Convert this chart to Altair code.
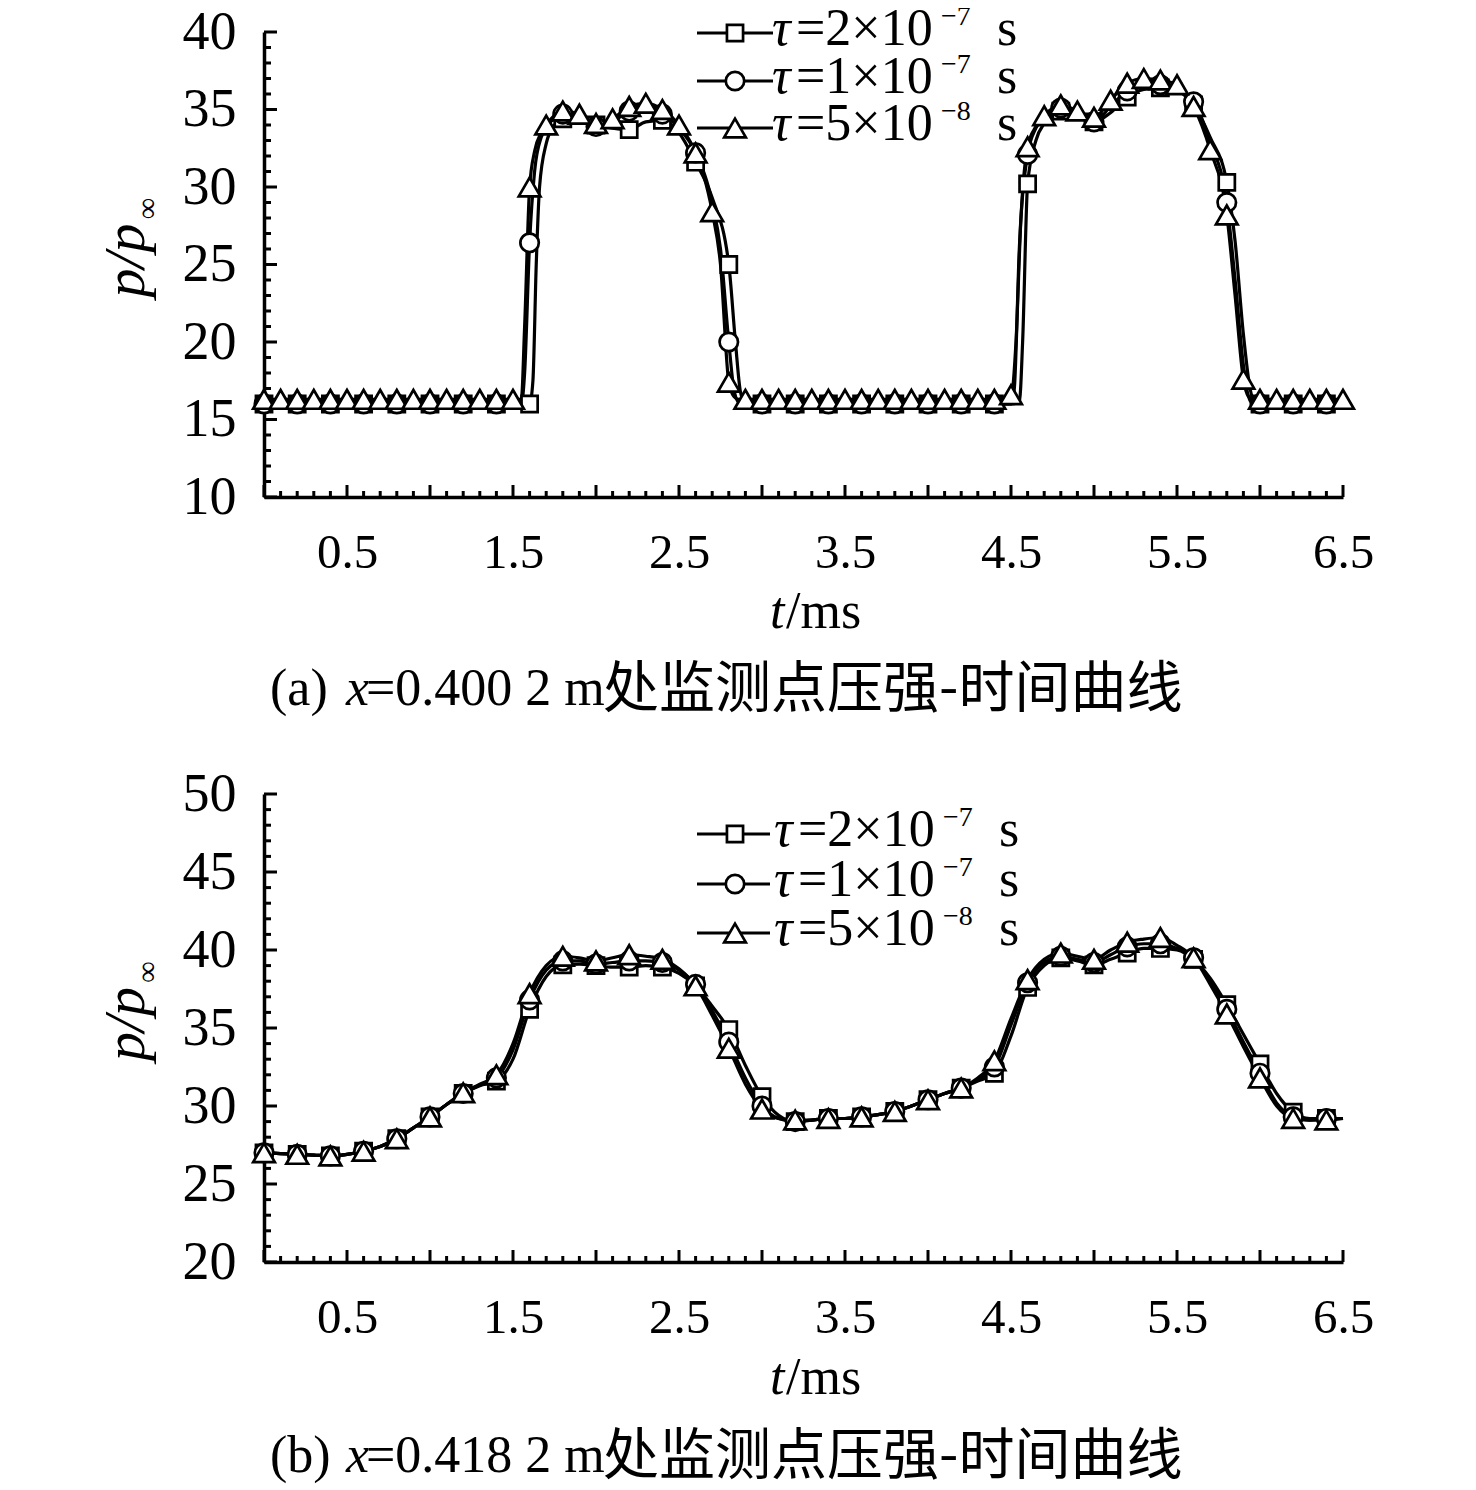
import altair as alt
import pandas as pd

SERIF = "Liberation Serif"
CJK = "Noto Sans CJK SC"

# ---------------- data ----------------
MANTISSA = ["2", "1", "5"]
EXPONENT = ["\u22127", "\u22127", "\u22128"]
SHAPES = ["square", "circle", "triangle-up"]
SIZES = [260, 340, 470]

X_LABELS = [0.5, 1.5, 2.5, 3.5, 4.5, 5.5, 6.5]
X_MAJOR = [0.0, 0.5, 1.0, 1.5, 2.0, 2.5, 3.0, 3.5, 4.0, 4.5, 5.0, 5.5, 6.0, 6.5]
X_MINOR = [0.1, 0.2, 0.3, 0.4, 0.6, 0.7, 0.8, 0.9, 1.1, 1.2, 1.3, 1.4, 1.6, 1.7,
           1.8, 1.9, 2.1, 2.2, 2.3, 2.4, 2.6, 2.7, 2.8, 2.9, 3.1, 3.2, 3.3, 3.4,
           3.6, 3.7, 3.8, 3.9, 4.1, 4.2, 4.3, 4.4, 4.6, 4.7, 4.8, 4.9, 5.1, 5.2,
           5.3, 5.4, 5.6, 5.7, 5.8, 5.9, 6.1, 6.2, 6.3, 6.4]

Y_TOP_MAJOR = [10, 15, 20, 25, 30, 35, 40]
Y_TOP_MINOR = [11, 12, 13, 14, 16, 17, 18, 19, 21, 22, 23, 24, 26, 27, 28, 29,
               31, 32, 33, 34, 36, 37, 38, 39]
Y_BOT_MAJOR = [20, 25, 30, 35, 40, 45, 50]
Y_BOT_MINOR = [21, 22, 23, 24, 26, 27, 28, 29, 31, 32, 33, 34, 36, 37, 38, 39,
               41, 42, 43, 44, 46, 47, 48, 49]

# (a) x = 0.4002 m
TOP_A_T = [0.0, 0.1, 0.2, 0.3, 0.4, 0.5, 0.6, 0.7, 0.8, 0.9, 1.0, 1.1, 1.2, 1.3, 1.4, 1.5, 1.6,
           1.62, 1.64, 1.66, 1.7, 1.75, 1.8, 1.9, 2.0, 2.1, 2.2, 2.3, 2.4, 2.5, 2.6, 2.7, 2.8,
           2.84, 2.87, 2.9, 3.0, 3.1, 3.2, 3.3, 3.4, 3.5, 3.6, 3.7, 3.8, 3.9, 4.0, 4.1, 4.2,
           4.3, 4.4, 4.5, 4.55, 4.57, 4.6, 4.65, 4.7, 4.8, 4.9, 5.0, 5.1, 5.2, 5.3, 5.4, 5.5,
           5.6, 5.7, 5.8, 5.85, 5.9, 5.94, 5.97, 6.0, 6.1, 6.2, 6.3, 6.4, 6.5]
TOP_A_P = [16.0, 16.0, 16.0, 16.0, 16.0, 16.0, 16.0, 16.0, 16.0, 16.0, 16.0, 16.0, 16.0, 16.0, 16.0, 16.0, 16.0,
           17.5, 25.0, 30.0, 32.8, 34.0, 34.4, 34.4, 34.0, 33.8, 33.7, 34.2, 34.3, 33.5, 31.6, 29.3, 25.0,
           20.0, 16.8, 16.0, 16.0, 16.0, 16.0, 16.0, 16.0, 16.0, 16.0, 16.0, 16.0, 16.0, 16.0, 16.0, 16.0,
           16.0, 16.0, 16.0, 16.1, 20.0, 30.2, 33.0, 34.1, 34.9, 34.6, 34.2, 34.8, 35.8, 36.3, 36.4, 36.2,
           35.3, 33.2, 30.3, 26.5, 20.5, 17.0, 16.1, 16.0, 16.0, 16.0, 16.0, 16.0, 16.0]

TOP_B_T = [0.0, 0.1, 0.2, 0.3, 0.4, 0.5, 0.6, 0.7, 0.8, 0.9, 1.0, 1.1, 1.2, 1.3, 1.4, 1.5,
           1.55, 1.57, 1.6, 1.63, 1.67, 1.7, 1.8, 1.9, 2.0, 2.1, 2.2, 2.3, 2.4, 2.5, 2.6, 2.7,
           2.75, 2.8, 2.83, 2.86, 2.9, 3.0, 3.1, 3.2, 3.3, 3.4, 3.5, 3.6, 3.7, 3.8, 3.9, 4.0,
           4.1, 4.2, 4.3, 4.4, 4.5, 4.52, 4.55, 4.6, 4.65, 4.7, 4.8, 4.9, 5.0, 5.1, 5.2, 5.3,
           5.4, 5.5, 5.6, 5.7, 5.8, 5.85, 5.9, 5.93, 5.96, 6.0, 6.1, 6.2, 6.3, 6.4, 6.5]
TOP_B_P = [16.0, 16.0, 16.0, 16.0, 16.0, 16.0, 16.0, 16.0, 16.0, 16.0, 16.0, 16.0, 16.0, 16.0, 16.0, 16.0,
           16.0, 18.0, 26.4, 31.0, 33.2, 33.8, 34.7, 34.5, 33.9, 34.2, 34.9, 35.1, 34.7, 33.8, 32.2, 29.0,
           26.0, 20.0, 17.0, 16.1, 16.0, 16.0, 16.0, 16.0, 16.0, 16.0, 16.0, 16.0, 16.0, 16.0, 16.0, 16.0,
           16.0, 16.0, 16.0, 16.0, 16.0, 17.0, 26.0, 32.1, 33.8, 34.5, 35.1, 34.8, 34.2, 35.2, 36.2, 36.6,
           36.6, 36.3, 35.5, 32.9, 29.0, 24.0, 18.5, 16.5, 16.0, 16.0, 16.0, 16.0, 16.0, 16.0, 16.0]

TOP_C_T = [0.0, 0.1, 0.2, 0.3, 0.4, 0.5, 0.6, 0.7, 0.8, 0.9, 1.0, 1.1, 1.2, 1.3, 1.4, 1.5,
           1.55, 1.57, 1.6, 1.63, 1.67, 1.7, 1.8, 1.9, 2.0, 2.1, 2.2, 2.3, 2.4, 2.5, 2.6, 2.7,
           2.75, 2.8, 2.83, 2.86, 2.9, 3.0, 3.1, 3.2, 3.3, 3.4, 3.5, 3.6, 3.7, 3.8, 3.9, 4.0,
           4.1, 4.2, 4.3, 4.4, 4.5, 4.53, 4.56, 4.6, 4.65, 4.7, 4.8, 4.9, 5.0, 5.1, 5.2, 5.3,
           5.4, 5.5, 5.6, 5.7, 5.8, 5.85, 5.9, 5.93, 5.96, 6.0, 6.1, 6.2, 6.3, 6.4, 6.5]
TOP_C_P = [16.3, 16.3, 16.3, 16.3, 16.3, 16.3, 16.3, 16.3, 16.3, 16.3, 16.3, 16.3, 16.3, 16.3, 16.3, 16.3,
           16.3, 21.0, 30.0, 32.3, 33.5, 34.0, 34.9, 34.7, 34.1, 34.4, 35.2, 35.4, 35.0, 34.0, 32.2, 28.4,
           25.0, 17.4, 16.5, 16.3, 16.3, 16.3, 16.3, 16.3, 16.3, 16.3, 16.3, 16.3, 16.3, 16.3, 16.3, 16.3,
           16.3, 16.3, 16.3, 16.3, 16.6, 20.0, 28.0, 32.6, 33.9, 34.6, 35.3, 34.9, 34.5, 35.6, 36.7, 37.0,
           36.9, 36.6, 35.2, 32.4, 28.2, 23.0, 17.6, 16.5, 16.3, 16.3, 16.3, 16.3, 16.3, 16.3, 16.3]

# (b) x = 0.4182 m
BOT_T = [0.0, 0.1, 0.2, 0.3, 0.4, 0.5, 0.6, 0.7, 0.8, 0.9,
         1.0, 1.1, 1.2, 1.3, 1.4, 1.5, 1.6, 1.7, 1.8, 1.9,
         2.0, 2.1, 2.2, 2.3, 2.4, 2.5, 2.6, 2.7, 2.8, 2.9,
         3.0, 3.1, 3.2, 3.3, 3.4, 3.5, 3.6, 3.7, 3.8, 3.9,
         4.0, 4.1, 4.2, 4.3, 4.4, 4.5, 4.6, 4.7, 4.8, 4.9,
         5.0, 5.1, 5.2, 5.3, 5.4, 5.5, 5.6, 5.7, 5.8, 5.9,
         6.0, 6.1, 6.2, 6.3, 6.4, 6.5]
BOT_A_P = [27.0, 26.95, 26.9, 26.85, 26.8, 26.9, 27.1, 27.4, 27.9, 28.6,
           29.3, 30.1, 30.8, 31.3, 31.6, 33.0, 36.2, 38.3, 39.05, 39.1,
           39.0, 38.9, 38.9, 39.0, 38.9, 38.5, 37.7, 36.4, 34.9, 32.6,
           30.6, 29.4, 29.0, 29.1, 29.2, 29.2, 29.3, 29.45, 29.65, 30.0,
           30.4, 30.8, 31.15, 31.6, 32.1, 34.5, 37.6, 39.0, 39.5, 39.3,
           39.05, 39.4, 39.8, 40.1, 40.1, 40.0, 39.4, 38.2, 36.5, 34.6,
           32.7, 30.8, 29.6, 29.2, 29.2, 29.2]
BOT_B_P = [27.0, 26.95, 26.9, 26.85, 26.8, 26.9, 27.1, 27.4, 27.9, 28.6,
           29.3, 30.1, 30.8, 31.35, 31.8, 33.6, 36.8, 38.7, 39.3, 39.3,
           39.1, 39.2, 39.3, 39.3, 39.2, 38.7, 37.8, 36.1, 34.1, 31.8,
           30.0, 29.2, 29.0, 29.1, 29.2, 29.2, 29.3, 29.45, 29.65, 30.0,
           30.4, 30.8, 31.15, 31.7, 32.5, 35.2, 37.9, 39.2, 39.6, 39.4,
           39.2, 39.7, 40.2, 40.4, 40.4, 40.1, 39.5, 38.0, 36.2, 34.1,
           32.1, 30.2, 29.3, 29.1, 29.2, 29.2]
BOT_C_P = [27.0, 26.95, 26.9, 26.85, 26.8, 26.9, 27.1, 27.4, 27.9, 28.6,
           29.3, 30.1, 30.85, 31.4, 32.0, 34.0, 37.2, 39.0, 39.6, 39.5,
           39.3, 39.5, 39.7, 39.6, 39.4, 38.8, 37.7, 35.8, 33.7, 31.4,
           29.8, 29.2, 29.1, 29.1, 29.2, 29.2, 29.3, 29.45, 29.65, 30.0,
           30.4, 30.8, 31.15, 31.8, 32.9, 35.6, 38.1, 39.4, 39.8, 39.6,
           39.4, 40.0, 40.5, 40.7, 40.8, 40.3, 39.5, 37.8, 35.9, 33.8,
           31.8, 30.0, 29.2, 29.1, 29.1, 29.2]

TOP_SERIES = [(TOP_A_T, TOP_A_P), (TOP_B_T, TOP_B_P), (TOP_C_T, TOP_C_P)]
BOT_SERIES = [(BOT_T, BOT_A_P), (BOT_T, BOT_B_P), (BOT_T, BOT_C_P)]
TOP_MARKER_STEP = [2, 2, 1]   # in tenths of a ms
BOT_MARKER_STEP = [2, 2, 2]

# ---------------- helpers ----------------
W = 1079
ONE = pd.DataFrame({"k": [0]})
LW = 3.2
MSW = 2.7


def on_grid(t, step):
    k = round(t * 10)
    return abs(t * 10 - k) < 1e-6 and k % step == 0


def txt(s, x, y, size, font=SERIF, style="normal", align="left", angle=0, baseline="alphabetic"):
    kw = dict(text=s, font=font, fontSize=size, fontStyle=style, align=align,
              baseline=baseline, color="black")
    if angle:
        kw["angle"] = angle
    return alt.Chart(ONE).mark_text(**kw).encode(x=alt.value(x), y=alt.value(y))


def make_panel(series, steps, ydom, ymajor, yminor, H, leg_y, leg_x_end, leg_dx,
               letter, pos_text, xtitle_y, cap_y):
    xs = alt.Scale(domain=[0, 6.5], nice=False, zero=False)
    ys = alt.Scale(domain=ydom, nice=False, zero=False)
    x_axis = alt.Axis(values=X_LABELS, ticks=False, tickSize=0, grid=False, title=None,
                      labelFont=SERIF, labelFontSize=49, labelColor="black",
                      labelBaseline="alphabetic", labelPadding=70, labelFlush=False,
                      labelExpr="format(datum.value, '.1f')",
                      domainColor="black", domainWidth=3.5)
    y_axis = alt.Axis(values=ymajor, ticks=False, tickSize=0, grid=False, title=None,
                      labelFont=SERIF, labelFontSize=54, labelColor="black",
                      labelPadding=28, labelFlush=False,
                      domainColor="black", domainWidth=3.5)
    layers = []
    # curves (these carry the axes)
    for i, (tt, pp) in enumerate(series):
        df = pd.DataFrame({"t": tt, "p": pp})
        layers.append(alt.Chart(df).mark_line(interpolate="monotone", color="black", strokeWidth=LW)
                      .encode(x=alt.X("t:Q", scale=xs, axis=x_axis),
                              y=alt.Y("p:Q", scale=ys, axis=y_axis),
                              order="t:Q"))
    # inward tick marks
    for vals, ln in ((X_MAJOR, 12), (X_MINOR, 6)):
        layers.append(alt.Chart(pd.DataFrame({"t": vals})).mark_rule(color="black", strokeWidth=3)
                      .encode(x=alt.X("t:Q", scale=xs, axis=x_axis),
                              y=alt.value(H), y2=alt.value(H - ln)))
    for vals, ln in ((ymajor, 13), (yminor, 7)):
        layers.append(alt.Chart(pd.DataFrame({"p": vals})).mark_rule(color="black", strokeWidth=3)
                      .encode(y=alt.Y("p:Q", scale=ys, axis=y_axis),
                              x=alt.value(0), x2=alt.value(ln)))
    # markers
    for i, (tt, pp) in enumerate(series):
        mk = [(a, b) for a, b in zip(tt, pp) if on_grid(a, steps[i])]
        df = pd.DataFrame({"t": [a for a, _ in mk], "p": [b for _, b in mk]})
        layers.append(alt.Chart(df).mark_point(shape=SHAPES[i], size=SIZES[i], fill="white",
                                               fillOpacity=1, opacity=1, stroke="black",
                                               strokeWidth=MSW)
                      .encode(x=alt.X("t:Q", scale=xs, axis=x_axis),
                              y=alt.Y("p:Q", scale=ys, axis=y_axis)))
    # legend
    for i in range(3):
        ry = leg_y[i]
        layers.append(alt.Chart(ONE).mark_rule(color="black", strokeWidth=LW)
                      .encode(x=alt.value(433), x2=alt.value(leg_x_end), y=alt.value(ry)))
        layers.append(alt.Chart(ONE).mark_point(shape=SHAPES[i], size=SIZES[i], fill="white",
                                                fillOpacity=1, opacity=1, stroke="black",
                                                strokeWidth=MSW)
                      .encode(x=alt.value(471), y=alt.value(ry)))
        layers.append(txt("\u03c4", 508 + leg_dx, ry + 12, 52, style="italic"))
        layers.append(txt("=" + MANTISSA[i] + "\u00d710", 532 + leg_dx, ry + 12, 52))
        layers.append(txt(EXPONENT[i], 677 + leg_dx, ry - 8, 28))
        layers.append(txt("s", 733 + leg_dx, ry + 12, 52))
    # axis titles
    layers.append(txt("p/p", -120, H / 2 - 4, 58, style="italic", align="center", angle=270))
    layers.append(txt("\u221e", -107, H / 2 - 56, 30, align="center", angle=270))
    layers.append(txt("t", 506, xtitle_y, 52, style="italic"))
    layers.append(txt("/ms", 522, xtitle_y, 52))
    # caption
    layers.append(txt(letter, 6, cap_y, 52))
    layers.append(txt("x", 82, cap_y, 52, style="italic"))
    layers.append(txt("=" + pos_text + " m", 102, cap_y, 52))
    layers.append(txt("\u5904\u76d1\u6d4b\u70b9\u538b\u5f3a-\u65f6\u95f4\u66f2\u7ebf", 339, cap_y + 2, 56, font=CJK))
    return alt.layer(*layers).properties(width=W, height=H)


top = make_panel(TOP_SERIES, TOP_MARKER_STEP, [10, 40], Y_TOP_MAJOR, Y_TOP_MINOR, 465,
                 [1, 49, 96], 509, 0, "(a)", "0.400 2", 596, 673)
bot = make_panel(BOT_SERIES, BOT_MARKER_STEP, [20, 50], Y_BOT_MAJOR, Y_BOT_MINOR, 468,
                 [40, 90, 139], 506, 2, "(b)", "0.418 2", 600, 678)

chart = (alt.vconcat(top, bot, spacing=297, bounds="flush")
         .properties(padding={"left": 90, "top": -5, "right": 5, "bottom": 5})
         .configure_view(stroke=None))

chart.save("out.html", embed_options={"renderer": "svg", "actions": False})
